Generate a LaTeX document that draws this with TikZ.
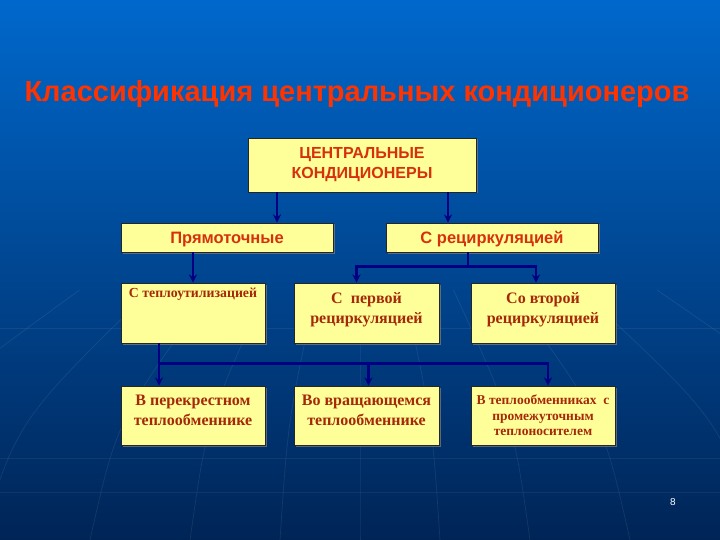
\documentclass[tikz,border=0pt]{standalone}
\usepackage{fontspec}
\setmainfont{Liberation Serif}
\setsansfont{Liberation Sans}
\usepackage{tikz}
\usetikzlibrary{arrows,positioning,shadows,calc}
\usepackage{xcolor}
\definecolor{slidetop}{RGB}{0,104,204}
\definecolor{slidebot}{RGB}{0,36,86}
\definecolor{boxfill}{RGB}{255,255,153}
\definecolor{titlered}{RGB}{255,51,0}
\definecolor{boxred}{RGB}{214,48,14}
\definecolor{brownred}{RGB}{165,40,10}
\definecolor{linkblue}{RGB}{0,0,130}

\begin{document}
\begin{tikzpicture}[x=1pt, y=-1pt, >=stealth,
    box/.style={draw=black!85, fill=boxfill, line width=0.8pt, inner sep=2pt,
                align=center,
                drop shadow={shadow xshift=1.5pt, shadow yshift=-1.5pt, opacity=0.7}},
    sansbox/.style={box, text=boxred, font=\sffamily\bfseries\fontsize{16.5}{20}\selectfont},
    serifbox/.style={box, text=brownred, text depth=11pt,
                     font=\bfseries\fontsize{16}{20}\selectfont},
    link/.style={linkblue, line width=2.6pt},
    arr/.style={link, ->}]
  \useasboundingbox (0,0) rectangle (720,540);
  % slide background
  \shade[top color=slidetop, bottom color=slidebot] (0,0) rectangle (720,540);
  \foreach \x in {-300,-150,-20,90,190,280,360,440,530,630,760,900}
    \draw[white, opacity=0.08, line width=0.7pt]
      (\x,540) .. controls ({360+(\x-360)*0.9},420) .. ({360+(\x-360)*0.55},290);
  \foreach \y in {328,458,492}
    \draw[white, opacity=0.06, line width=0.7pt] (0,\y) -- (720,\y);
  % title
  \node[font=\sffamily\bfseries\fontsize{29}{32}\selectfont, text=titlered,
        anchor=base] (title) at (357,102) {Классификация центральных кондиционеров};
  % level 1 and 2
  \node[sansbox, font=\sffamily\bfseries\fontsize{16}{20}\selectfont,
        minimum width=228, minimum height=54] (central) at (362,165)
       {ЦЕНТРАЛЬНЫЕ\\КОНДИЦИОНЕРЫ};
  \node[sansbox, minimum width=212, minimum height=29, text depth=0pt] (pryam) at (227,237.5)
       {Прямоточные};
  \node[sansbox, minimum width=212, minimum height=29, text depth=0pt] (recirc) at (492,237.5)
       {С рециркуляцией};
  % level 3
  \node[box, minimum width=144, minimum height=60] (util) at (193,313) {};
  \node[text=brownred, font=\bfseries\fontsize{13.8}{15}\selectfont, below=2pt of util.north]
       (utiltxt) {С теплоутилизацией};
  \node[serifbox, minimum width=145, minimum height=60] (first) at (366.5,313)
       {С\ \ первой\\рециркуляцией};
  \node[serifbox, minimum width=144, minimum height=60] (second) at (543,313)
       {Со второй\\рециркуляцией};
  % level 4
  \node[serifbox, minimum width=144, minimum height=59] (cross) at (193,415.5)
       {В перекрестном\\теплообменнике};
  \node[serifbox, minimum width=145, minimum height=59] (rotor) at (366.5,415.5)
       {Во вращающемся\\теплообменнике};
  \node[box, text=brownred, font=\bfseries\fontsize{13.5}{15.5}\selectfont,
        minimum width=144, minimum height=59] (inter) at (543,415.5)
       {В теплообменниках\ \ с\\промежуточным\\теплоносителем};
  % connectors
  \coordinate (c1) at ([xshift=-85pt]central.south);
  \coordinate (c2) at ([xshift=86pt]central.south);
  \draw[arr] (c1) -- (c1 |- pryam.north);
  \draw[arr] (c2) -- (c2 |- recirc.north);
  \draw[arr] (pryam.south -| util.north) -- (util.north);
  \coordinate (r0) at ([xshift=-24pt]recirc.south);
  \coordinate (r1) at ($(r0)+(0,14)$);
  \draw[link] (r0) -- (r1);
  \draw[arr] (r1) -| ([xshift=-10pt]first.north);
  \draw[arr] (r1) -| ([xshift=-7pt]second.north);
  \coordinate (u0) at ([xshift=-34pt]util.south);
  \coordinate (u1) at ($(u0)+(0,20)$);
  \draw[arr] (u0) -- (u0 |- cross.north);
  \draw[arr] (u1) -| ([xshift=2pt]rotor.north);
  \draw[arr] (u1) -| ([xshift=5pt]inter.north);
  % page number
  \node[white, font=\sffamily\fontsize{10}{11}\selectfont] (page) at (673,502) {8};
\end{tikzpicture}
\end{document}
